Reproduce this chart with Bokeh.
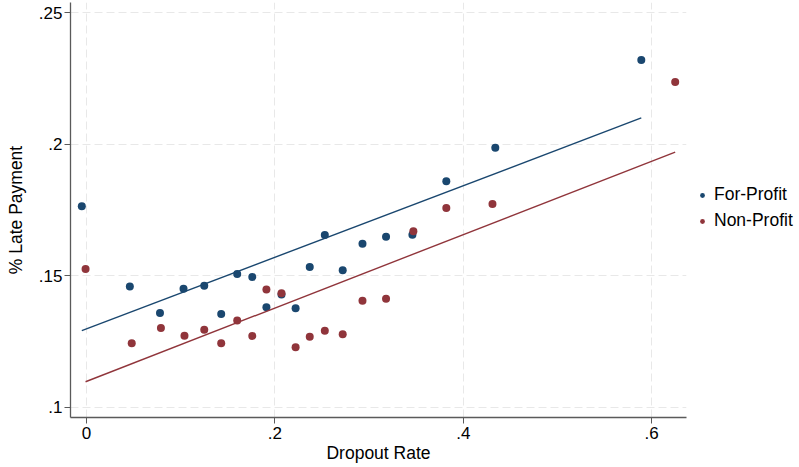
from bokeh.plotting import figure
from bokeh.models import Range1d, FixedTicker, Legend, LegendItem
from bokeh.embed import file_html
from bokeh.resources import INLINE

# For-Profit series
fp_x = [-0.005, 0.046, 0.078, 0.103, 0.125, 0.143, 0.160, 0.176, 0.191, 0.207, 0.222,
        0.237, 0.253, 0.272, 0.293, 0.318, 0.346, 0.382, 0.434, 0.589]
fp_y = [0.1764, 0.1459, 0.1358, 0.1451, 0.1462, 0.1355, 0.1507, 0.1495, 0.1380, 0.1429, 0.1376,
        0.1533, 0.1655, 0.1521, 0.1622, 0.1648, 0.1656, 0.1859, 0.1987, 0.2320]
# Non-Profit series
np_x = [-0.001, 0.048, 0.079, 0.104, 0.125, 0.143, 0.160, 0.176, 0.191, 0.207, 0.222,
        0.237, 0.253, 0.272, 0.293, 0.318, 0.347, 0.382, 0.431, 0.625]
np_y = [0.1526, 0.1243, 0.1301, 0.1272, 0.1295, 0.1243, 0.1330, 0.1271, 0.1448, 0.1433, 0.1228,
        0.1268, 0.1291, 0.1278, 0.1405, 0.1413, 0.1669, 0.1758, 0.1773, 0.2237]
# Fitted lines (endpoints)
fp_fit_x = [-0.005, 0.589]
fp_fit_y = [0.1291, 0.2100]
np_fit_x = [-0.001, 0.625]
np_fit_y = [0.1097, 0.1970]

x_ticks = [0, 0.2, 0.4, 0.6]
x_tick_labels = ["0", ".2", ".4", ".6"]
y_ticks = [0.1, 0.15, 0.2, 0.25]
y_tick_labels = [".1", ".15", ".2", ".25"]

NAVY = "#1a476f"
MAROON = "#90353b"
FONT = "Liberation Sans"

p = figure(frame_width=616, frame_height=415, output_backend="svg", toolbar_location=None,
           x_range=Range1d(-0.017, 0.637), y_range=Range1d(0.0961, 0.2539),
           min_border_left=70, min_border_right=113, min_border_top=2, min_border_bottom=50)
p.outline_line_color = None
p.background_fill_color = "white"
p.border_fill_color = "white"

for g in (p.xgrid[0], p.ygrid[0]):
    g.grid_line_color = "#e8e8e8"
    g.grid_line_dash = "8 4"
    g.grid_line_width = 1

p.xaxis.ticker = FixedTicker(ticks=x_ticks)
p.xaxis.major_label_overrides = dict(zip(x_ticks, x_tick_labels))
p.yaxis.ticker = FixedTicker(ticks=y_ticks)
p.yaxis.major_label_overrides = dict(zip(y_ticks, y_tick_labels))

for ax in (p.xaxis[0], p.yaxis[0]):
    ax.axis_line_color = "#5a5a5a"
    ax.axis_line_width = 1.3
    ax.major_tick_line_color = "#5a5a5a"
    ax.major_tick_out = 6
    ax.major_tick_in = 0
    ax.minor_tick_line_color = None
    ax.major_label_text_font = FONT
    ax.major_label_text_font_size = "17px"
    ax.major_label_text_color = "#000000"
    ax.axis_label_text_font = FONT
    ax.axis_label_text_font_size = "17.5px"
    ax.axis_label_text_font_style = "normal"
    ax.axis_label_text_color = "#000000"

p.xaxis.axis_label = "Dropout Rate"
p.yaxis.axis_label = "% Late Payment"
p.xaxis.major_label_standoff = 3
p.xaxis.axis_label_standoff = 1
p.yaxis.major_label_standoff = 2
p.yaxis.axis_label_standoff = 10
p.yaxis.major_label_orientation = "horizontal"

r_fp = p.scatter(fp_x, fp_y, size=8, color=NAVY, line_color=None)
r_np = p.scatter(np_x, np_y, size=8, color=MAROON, line_color=None)
p.line(fp_fit_x, fp_fit_y, color=NAVY, line_width=1.4)
p.line(np_fit_x, np_fit_y, color=MAROON, line_width=1.4)

legend = Legend(items=[LegendItem(label="For-Profit", renderers=[r_fp]),
                       LegendItem(label="Non-Profit", renderers=[r_np])],
                location=(10, 186), orientation="vertical")
legend.border_line_color = None
legend.background_fill_alpha = 0
legend.padding = 0
legend.margin = 0
legend.glyph_width = 12
legend.glyph_height = 20
legend.spacing = 5
legend.label_standoff = 6
legend.label_text_font = FONT
legend.label_text_font_size = "17.5px"
legend.label_text_color = "#000000"
p.add_layout(legend, "right")

open("out.html", "w").write(file_html(p, INLINE))
